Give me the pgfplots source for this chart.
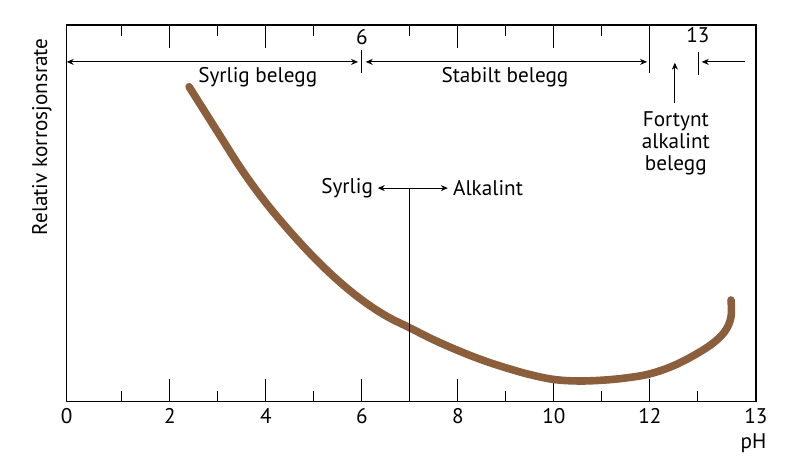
\documentclass[border=0pt]{standalone}
\usepackage{fontspec}
\setmainfont{PT Sans}
\usepackage{pgfplots}
\pgfplotsset{compat=1.18}
\usetikzlibrary{arrows.meta}
\definecolor{curvebrown}{RGB}{139,94,60}
\begin{document}
\begin{tikzpicture}[font=\fontsize{10.6}{11}\selectfont, >={Stealth[length=3.5pt,width=3pt]}]
\begin{axis}[name=ax, width=344.65pt, height=188.35pt, scale only axis,
  xmin=-0.15, xmax=14.21, ymin=0, ymax=100,
  axis line style={line width=0.75pt},
  xtick={-0.15,2,4,6,8,10,12,14.21}, xticklabels={0,2,4,6,8,10,12,13},
  minor xtick={1,3,5,7,9,11,13},
  xtick pos=bottom,
  ytick=\empty,
  tick align=inside,
  major tick length=11.5pt, minor tick length=5.5pt,
  every tick/.style={line width=0.5pt, black},
  tick label style={font=\fontsize{10.6}{11}\selectfont},
  /pgf/number format/assume math mode=true,
  clip=false]
\addplot[curvebrown, line width=3.8pt, line cap=round, smooth, tension=0.6] coordinates {
(2.40,83.6) (3.0,71.5) (3.5,61.5) (4.0,52.8) (4.5,45.2) (5.0,38.3) (5.5,32.2)
(6.0,27.0) (6.5,22.8) (7.0,19.6) (7.5,16.4) (8.0,13.6) (8.5,11.1) (9.0,9.0)
(9.5,7.2) (10.0,5.9) (10.5,5.5) (11.0,5.7) (11.5,6.3) (12.0,7.4) (12.5,9.6)
(13.0,12.9) (13.35,15.9) (13.58,19.0) (13.69,22.6) (13.69,27.0)
};
% top ticks
\pgfplotsinvokeforeach{2,4,8,10}{\draw[line width=0.5pt] (axis cs:#1,100) -- ++(0pt,-11.5pt);}
\pgfplotsinvokeforeach{1,3,5,7,9,11}{\draw[line width=0.5pt] (axis cs:#1,100) -- ++(0pt,-5.5pt);}
% top vertical markers
\draw[line width=0.5pt] (axis cs:6,93.3) -- (axis cs:6,87.2);
\draw[line width=0.5pt] (axis cs:12,100) -- (axis cs:12,87.2);
\draw[line width=0.5pt] (axis cs:13.02,92.8) -- (axis cs:13.02,86.7);
\node at (axis cs:6,96.8) {6};
\node at (axis cs:13.0,97.3) {13};
% range arrows
\draw[<->, line width=0.5pt] (axis cs:-0.15,90.2) -- (axis cs:5.92,90.2);
\draw[<->, line width=0.5pt] (axis cs:6.08,90.2) -- (axis cs:11.94,90.2);
\draw[->, line width=0.5pt] (axis cs:12.52,79.3) -- (axis cs:12.52,90.0);
\draw[->, line width=0.5pt] (axis cs:13.98,90.2) -- (axis cs:13.08,90.2);
\node at (axis cs:3.83,86.2) {Syrlig belegg};
\node at (axis cs:8.98,86.2) {Stabilt belegg};
\node[align=center] at (axis cs:12.54,68.7) {Fortynt\\alkalint\\belegg};
% neutral marker
\draw[line width=0.5pt] (axis cs:7,56.7) -- (axis cs:7,0);
\draw[<->, line width=0.5pt] (axis cs:6.33,56.7) -- (axis cs:7.79,56.7);
\node[anchor=east, inner sep=1pt] at (axis cs:6.28,56.7) {Syrlig};
\node[anchor=west, inner sep=1pt] at (axis cs:7.85,56.7) {Alkalint};
% labels
\node at (axis cs:14.16,-11) {pH};
\node[rotate=90] at (axis cs:-0.667,70.3) {Relativ korrosjonsrate};
\end{axis}
\path ([xshift=-33.35pt,yshift=-31.15pt]ax.south west) rectangle ([xshift=22pt,yshift=12.5pt]ax.north east);
\end{tikzpicture}
\end{document}
